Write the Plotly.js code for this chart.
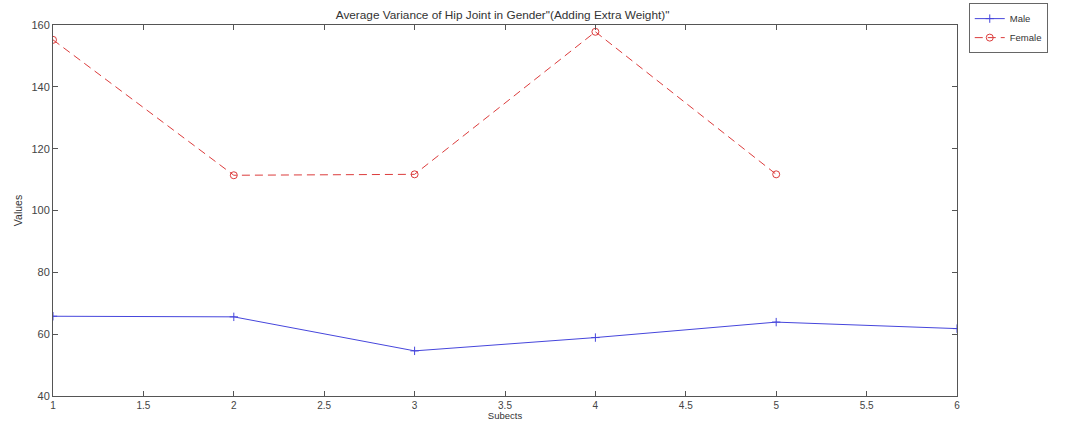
<!DOCTYPE html>
<html>
<head>
<meta charset="utf-8">
<script src="https://cdn.plot.ly/plotly-3.0.1.min.js"></script>
<style>html,body{margin:0;padding:0;background:#fff;}#chart{width:1067px;height:421px;}</style>
</head>
<body>
<div id="chart"></div>
<script>
const subjects = [1, 2, 3, 4, 5, 6];
const maleValues = [65.8, 65.6, 54.6, 58.9, 63.9, 61.8];
const femaleSubjects = [1, 2, 3, 4, 5];
const femaleValues = [155.2, 111.4, 111.7, 157.8, 111.7];
const xTickVals = [1, 1.5, 2, 2.5, 3, 3.5, 4, 4.5, 5, 5.5, 6];
const yTickVals = [40, 60, 80, 100, 120, 140, 160];

const traces = [
  {
    x: subjects, y: maleValues, name: 'Male', type: 'scatter', mode: 'lines+markers',
    line: {color: 'rgb(70,70,220)', width: 1},
    marker: {symbol: 'cross-thin-open', size: 6, color: 'rgb(70,70,220)', line: {color: 'rgb(70,70,220)', width: 1}}
  },
  {
    x: femaleSubjects, y: femaleValues, name: 'Female', type: 'scatter', mode: 'lines+markers',
    line: {color: 'rgb(220,60,60)', width: 1, dash: '8px,5px'},
    marker: {symbol: 'circle-open', size: 7, color: 'rgb(220,60,60)', line: {color: 'rgb(220,60,60)', width: 1}}
  }
];

const axisCommon = {
  showgrid: false, zeroline: false, showline: true, mirror: 'ticks',
  linecolor: '#555', linewidth: 1, ticks: 'inside', ticklen: 5, tickcolor: '#555',
  tickfont: {family: 'Liberation Sans, Arial, sans-serif', size: 10, color: '#444'}
};

const layout = {
  width: 1067, height: 421,
  margin: {l: 53, r: 110, t: 25, b: 25, autoexpand: false},
  paper_bgcolor: '#fff', plot_bgcolor: '#fff',
  font: {family: 'Liberation Sans, Arial, sans-serif', color: '#333'},
  title: {text: 'Average Variance of Hip Joint in Gender"(Adding Extra Weight)"', font: {size: 11.8, color: '#333'}, x: 0.471, xref: 'container', y: 0.965, yref: 'container', yanchor: 'middle', automargin: false},
  xaxis: Object.assign({}, axisCommon, {
    range: [1, 6], tickvals: xTickVals, ticktext: xTickVals.map(String), automargin: false,
    ticklabelstandoff: 0,
    title: {text: 'Subects', font: {size: 9.5, color: '#333'}, standoff: 0}
  }),
  yaxis: Object.assign({}, axisCommon, {
    range: [40, 160], tickvals: yTickVals, automargin: false, tickfont: {family: 'Liberation Sans, Arial, sans-serif', size: 11, color: '#444'},
    title: {text: 'Values', font: {size: 10.5, color: '#333'}, standoff: 6}
  }),
  showlegend: true,
  legend: {
    x: 1.013, y: 1.059, xanchor: 'left', yanchor: 'top',
    bordercolor: '#666', borderwidth: 1, bgcolor: '#fff',
    font: {size: 9.5, color: '#333'}, tracegroupgap: 0, itemwidth: 30
  }
};

Plotly.newPlot('chart', traces, layout, {displayModeBar: false, staticPlot: true});
</script>
</body>
</html>
